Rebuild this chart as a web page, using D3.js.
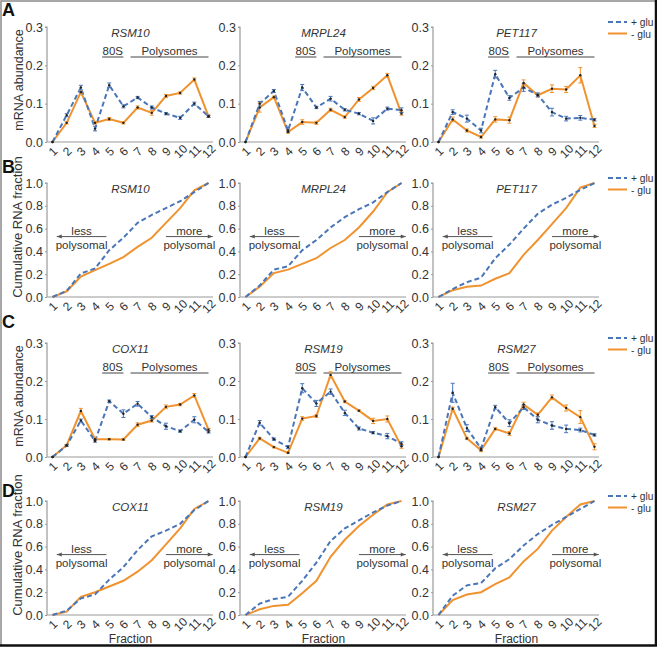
<!DOCTYPE html>
<html><head><meta charset="utf-8">
<script src="https://cdn.jsdelivr.net/npm/d3@7"></script>
<style>
html,body{margin:0;padding:0;background:#fff;}
svg{display:block;font-family:Arial,"Liberation Sans",sans-serif;}
</style></head>
<body><svg id="c" width="657" height="647"></svg>
<script>
// ---------- DATA ----------
const fractions = [1,2,3,4,5,6,7,8,9,10,11,12];
const seriesLabels = ["+ glu", "- glu"];
const panelLetters = ["A","B","C","D"];
const genesTop = ["RSM10","MRPL24","PET117"];
const genesBottom = ["COX11","RSM19","RSM27"];
const abundanceTicks = [0, 0.1, 0.2, 0.3];
const cumulativeTicks = [0, 0.2, 0.4, 0.6, 0.8, 1.0];

// mRNA abundance (+glu / -glu) with error bars
const rsm10Plus   = [0,0.070,0.142,0.035,0.148,0.093,0.116,0.090,0.074,0.063,0.100,0.067];
const rsm10PlusErr= [0,0.004,0.006,0.006,0.006,0.004,0.003,0.004,0.003,0.004,0.004,0.003];
const rsm10Minus  = [0,0.050,0.130,0.050,0.060,0.050,0.090,0.076,0.120,0.128,0.163,0.067];
const rsm10MinusErr=[0,0.003,0.004,0.003,0.004,0.003,0.004,0.006,0.004,0.003,0.004,0.003];

const mrpl24Plus   = [0,0.100,0.133,0.030,0.142,0.090,0.113,0.084,0.074,0.055,0.087,0.083];
const mrpl24PlusErr= [0,0.006,0.004,0.004,0.008,0.003,0.006,0.003,0.003,0.008,0.004,0.006];
const mrpl24Minus  = [0,0.090,0.117,0.026,0.052,0.050,0.084,0.065,0.111,0.141,0.174,0.074];
const mrpl24MinusErr=[0,0.012,0.003,0.003,0.006,0.004,0.004,0.003,0.005,0.004,0.005,0.004];

const pet117Plus   = [0,0.078,0.061,0.030,0.177,0.115,0.142,0.123,0.078,0.061,0.063,0.058];
const pet117PlusErr= [0,0.006,0.009,0.006,0.010,0.006,0.010,0.005,0.010,0.006,0.006,0.003];
const pet117Minus  = [0,0.059,0.030,0.013,0.059,0.057,0.154,0.122,0.139,0.137,0.174,0.042];
const pet117MinusErr=[0,0.006,0.004,0.003,0.007,0.008,0.008,0.005,0.010,0.008,0.020,0.004];

const cox11Plus   = [0,0.030,0.096,0.042,0.147,0.114,0.140,0.105,0.081,0.068,0.098,0.066];
const cox11PlusErr= [0,0.002,0.004,0.003,0.003,0.010,0.006,0.004,0.008,0.003,0.008,0.003];
const cox11Minus  = [0,0.031,0.121,0.047,0.047,0.046,0.085,0.096,0.132,0.138,0.162,0.072];
const cox11MinusErr=[0,0.002,0.007,0.003,0.002,0.002,0.005,0.004,0.005,0.003,0.005,0.003];

const rsm19Plus   = [0,0.090,0.047,0.026,0.181,0.141,0.172,0.116,0.075,0.064,0.055,0.035];
const rsm19PlusErr= [0,0.006,0.003,0.004,0.012,0.008,0.007,0.007,0.004,0.003,0.007,0.005];
const rsm19Minus  = [0,0.049,0.026,0.011,0.101,0.108,0.216,0.146,0.122,0.095,0.100,0.028];
const rsm19MinusErr=[0,0.003,0.002,0.002,0.005,0.004,0.008,0.003,0.002,0.007,0.008,0.005];

const rsm27Plus   = [0,0.169,0.076,0.022,0.131,0.089,0.131,0.098,0.083,0.074,0.071,0.058];
const rsm27PlusErr= [0,0.025,0.009,0.004,0.005,0.009,0.006,0.008,0.010,0.010,0.005,0.003];
const rsm27Minus  = [0,0.127,0.049,0.018,0.074,0.062,0.138,0.111,0.157,0.129,0.105,0.027];
const rsm27MinusErr=[0,0.004,0.003,0.004,0.003,0.005,0.006,0.005,0.006,0.008,0.017,0.008];

// cumulative RNA fraction (+glu / -glu)
const rsm10CumPlus   = [0,0.053,0.206,0.250,0.410,0.520,0.650,0.720,0.780,0.840,0.920,1.0];
const rsm10CumMinus  = [0,0.050,0.180,0.235,0.290,0.350,0.440,0.520,0.650,0.780,0.935,1.0];
const mrpl24CumPlus  = [0,0.100,0.240,0.270,0.410,0.500,0.610,0.700,0.770,0.830,0.920,1.0];
const mrpl24CumMinus = [0,0.090,0.210,0.240,0.290,0.340,0.430,0.500,0.610,0.750,0.920,1.0];
const pet117CumPlus  = [0,0.070,0.130,0.170,0.340,0.460,0.600,0.730,0.810,0.870,0.940,1.0];
const pet117CumMinus = [0,0.060,0.090,0.100,0.160,0.210,0.370,0.500,0.640,0.780,0.960,1.0];
const cox11CumPlus   = [0,0.038,0.146,0.180,0.310,0.420,0.570,0.690,0.740,0.800,0.920,1.0];
const cox11CumMinus  = [0,0.030,0.160,0.200,0.250,0.300,0.380,0.480,0.620,0.760,0.930,1.0];
const rsm19CumPlus   = [0,0.100,0.140,0.160,0.300,0.460,0.650,0.760,0.830,0.900,0.960,1.0];
const rsm19CumMinus  = [0,0.050,0.080,0.090,0.190,0.300,0.510,0.660,0.780,0.880,0.970,1.0];
const rsm27CumPlus   = [0,0.170,0.260,0.280,0.410,0.490,0.610,0.710,0.790,0.860,0.930,1.0];
const rsm27CumMinus  = [0,0.130,0.180,0.200,0.270,0.330,0.470,0.580,0.740,0.860,0.970,1.0];

// ---------- BUILD ----------
const abundRows = [
  [[rsm10Plus,rsm10PlusErr,rsm10Minus,rsm10MinusErr],[mrpl24Plus,mrpl24PlusErr,mrpl24Minus,mrpl24MinusErr],[pet117Plus,pet117PlusErr,pet117Minus,pet117MinusErr]],
  [[cox11Plus,cox11PlusErr,cox11Minus,cox11MinusErr],[rsm19Plus,rsm19PlusErr,rsm19Minus,rsm19MinusErr],[rsm27Plus,rsm27PlusErr,rsm27Minus,rsm27MinusErr]]
];
const cumRows = [
  [[rsm10CumPlus,rsm10CumMinus],[mrpl24CumPlus,mrpl24CumMinus],[pet117CumPlus,pet117CumMinus]],
  [[cox11CumPlus,cox11CumMinus],[rsm19CumPlus,rsm19CumMinus],[rsm27CumPlus,rsm27CumMinus]]
];

const BLUE = "#4a76b8", ORANGE = "#f0932f", AXIS = "#9a9a9a", TXT = "#333";
const svg = d3.select("#c");
svg.append("defs").append("clipPath").attr("id","fr").append("rect")
  .attr("x",0).attr("y",0).attr("width",655).attr("height",644);
const root = svg.append("g").attr("clip-path","url(#fr)");

const rows = [
  {type:"abund", y0:142, y1:27, genes:genesTop, data:abundRows[0], letterY:16, label:"mRNA abundance", labelY:80, labelX:23},
  {type:"cum",   y0:297, y1:183, genes:genesTop, data:cumRows[0], letterY:173, label:"Cumulative RNA fraction", labelY:227, labelX:22},
  {type:"abund", y0:457, y1:343, genes:genesBottom, data:abundRows[1], letterY:328, label:"mRNA abundance", labelY:396, labelX:23},
  {type:"cum",   y0:615, y1:501, genes:genesBottom, data:cumRows[1], letterY:497, label:"Cumulative RNA fraction", labelY:545, labelX:22}
];
const axisXs = [47, 240, 433];

rows.forEach((row, ri) => {
  root.append("text").attr("x",2).attr("y",row.letterY).text(panelLetters[ri])
    .attr("font-weight","bold").attr("font-size",18).attr("fill","#111");
  root.append("text").attr("transform",`translate(${row.labelX},${row.labelY}) rotate(-90)`)
    .attr("text-anchor","middle").attr("font-size", row.type==="abund"?12.5:13).attr("fill",TXT).text(row.label);

  axisXs.forEach((ax, ci) => {
    const g = root.append("g");
    const x = d3.scalePoint().domain(fractions).range([ax+5.5, ax+161.5]);
    const dom = row.type==="abund" ? [0,0.3] : [0,1];
    const y = d3.scaleLinear().domain(dom).range([row.y0, row.y1]);
    const ticks = row.type==="abund" ? abundanceTicks : cumulativeTicks;

    // y axis
    const ya = g.append("g").attr("transform",`translate(${ax},0)`)
      .call(d3.axisLeft(y).tickValues(ticks).tickFormat(d3.format(".1f")).tickSize(2).tickPadding(2));
    ya.select(".domain").attr("stroke",AXIS).attr("stroke-width",1.2).attr("d",`M-2,${row.y1}H0V${row.y0}`);
    ya.selectAll(".tick line").attr("stroke",AXIS);
    ya.selectAll(".tick text").attr("font-size",12.5).attr("fill",TXT).attr("font-family",'Arial,"Liberation Sans",sans-serif');

    // x axis
    const xa = g.append("g").attr("transform",`translate(0,${row.y0})`)
      .call(d3.axisBottom(x).tickSize(0).tickPadding(0));
    xa.select(".domain").attr("stroke",AXIS).attr("stroke-width",1.2).attr("d",`M${ax},0H${ax+166}`);
    xa.selectAll(".tick text").attr("font-size",12).attr("fill",TXT)
      .attr("font-family",'Arial,"Liberation Sans",sans-serif')
      .attr("text-anchor","middle").attr("dy",null).attr("y",null)
      .attr("transform","translate(0,9.5) rotate(-45)").attr("dominant-baseline","central");

    const gene = row.genes[ci];
    const cx = (x(1)+x(12))/2;
    g.append("text").attr("x",cx).attr("y",row.y1+10).attr("text-anchor","middle")
      .attr("font-style","italic").attr("font-size",11.5).attr("fill",TXT).text(gene);

    const line = d3.line().x((d,i)=>x(fractions[i])).y(d=>y(d));
    const [plus, minus] = row.type==="abund" ? [row.data[ci][0], row.data[ci][2]] : row.data[ci];

    if (row.type==="abund") {
      // 80S / Polysomes annotation
      const ay = row.y1 + 30;
      const segs = [["80S",4.5,6.0],["Polysomes",6.5,12]];
      const xs = d3.scaleLinear().domain([1,12]).range([x(1),x(12)]);
      segs.forEach(s => {
        g.append("line").attr("x1",xs(s[1])).attr("x2",xs(s[2])).attr("y1",ay).attr("y2",ay)
          .attr("stroke","#444").attr("stroke-width",1);
        g.append("text").attr("x",(xs(s[1])+xs(s[2]))/2).attr("y",ay-2.5).attr("text-anchor","middle")
          .attr("font-size",11.5).attr("fill",TXT).text(s[0]);
      });
      const errs = [[minus,row.data[ci][3],ORANGE],[plus,row.data[ci][1],BLUE]];
      g.append("path").attr("d",line(minus)).attr("fill","none").attr("stroke",ORANGE).attr("stroke-width",2);
      g.append("path").attr("d",line(plus)).attr("fill","none").attr("stroke",BLUE).attr("stroke-width",2)
        .attr("stroke-dasharray","5,3");
      errs.forEach(([vals, err, col]) => {
        vals.forEach((v,i)=>{
          if (!err[i]) return;
          const px = x(fractions[i]);
          g.append("path").attr("d",`M${px},${y(v-err[i])}V${y(v+err[i])}M${px-2},${y(v-err[i])}H${px+2}M${px-2},${y(v+err[i])}H${px+2}`)
            .attr("stroke",col).attr("stroke-width",1).attr("fill","none");
        });
      });
      [minus, plus].forEach(vals => {
        g.selectAll(null).data(vals).enter().append("circle")
          .attr("cx",(d,i)=>x(fractions[i])).attr("cy",d=>y(d)).attr("r",1.2).attr("fill","#222");
      });
    } else {
      g.append("path").attr("d",line(minus)).attr("fill","none").attr("stroke",ORANGE).attr("stroke-width",2);
      g.append("path").attr("d",line(plus)).attr("fill","none").attr("stroke",BLUE).attr("stroke-width",2)
        .attr("stroke-dasharray","5,3");
      // less / more polysomal arrows
      const xs = d3.scaleLinear().domain([1,12]).range([x(1),x(12)]);
      const ay = y(0.53);
      const arrows = [["less",1.3,4.8,-1],["more",9.0,12.3,1]];
      arrows.forEach(([w,a,b,dir])=>{
        const x1 = xs(a), x2 = xs(b);
        g.append("line").attr("x1",x1).attr("x2",x2).attr("y1",ay).attr("y2",ay).attr("stroke","#555").attr("stroke-width",1);
        const tip = dir<0 ? x1 : x2;
        g.append("path").attr("d",`M${tip},${ay}L${tip-dir*5},${ay-2}L${tip-dir*5},${ay+2}Z`).attr("fill","#555");
        const mx = (x1+x2)/2;
        g.append("text").attr("x",mx).attr("y",ay-2).attr("text-anchor","middle").attr("font-size",11.5).attr("fill",TXT).text(w);
        g.append("text").attr("x",mx).attr("y",ay+12).attr("text-anchor","middle").attr("font-size",11.5).attr("fill",TXT).text("polysomal");
      });
      if (ri===3) {
        g.append("text").attr("x",cx).attr("y",643).attr("text-anchor","middle").attr("font-size",12).attr("fill",TXT).text("Fraction");
      }
    }

    // legend in last column
    if (ci===2) {
      const ly = row.y1 - 5;
      [[BLUE,"5,3",seriesLabels[0]],[ORANGE,null,seriesLabels[1]]].forEach(([col,dash,lab],k)=>{
        const yy = ly + k*11.5;
        g.append("line").attr("x1",608).attr("x2",627).attr("y1",yy).attr("y2",yy)
          .attr("stroke",col).attr("stroke-width",2).attr("stroke-dasharray",dash);
        g.append("text").attr("x",631).attr("y",yy+4).attr("font-size",10.2).attr("fill",TXT).text(lab);
      });
    }
  });
});

// frame
svg.append("path").attr("d","M1,646V1H656").attr("fill","none").attr("stroke","#8a8a8a").attr("stroke-width",1.5);
svg.append("path").attr("d","M656,0V645.5H0").attr("fill","none").attr("stroke","#111").attr("stroke-width",2.5);
</script>
</body></html>
